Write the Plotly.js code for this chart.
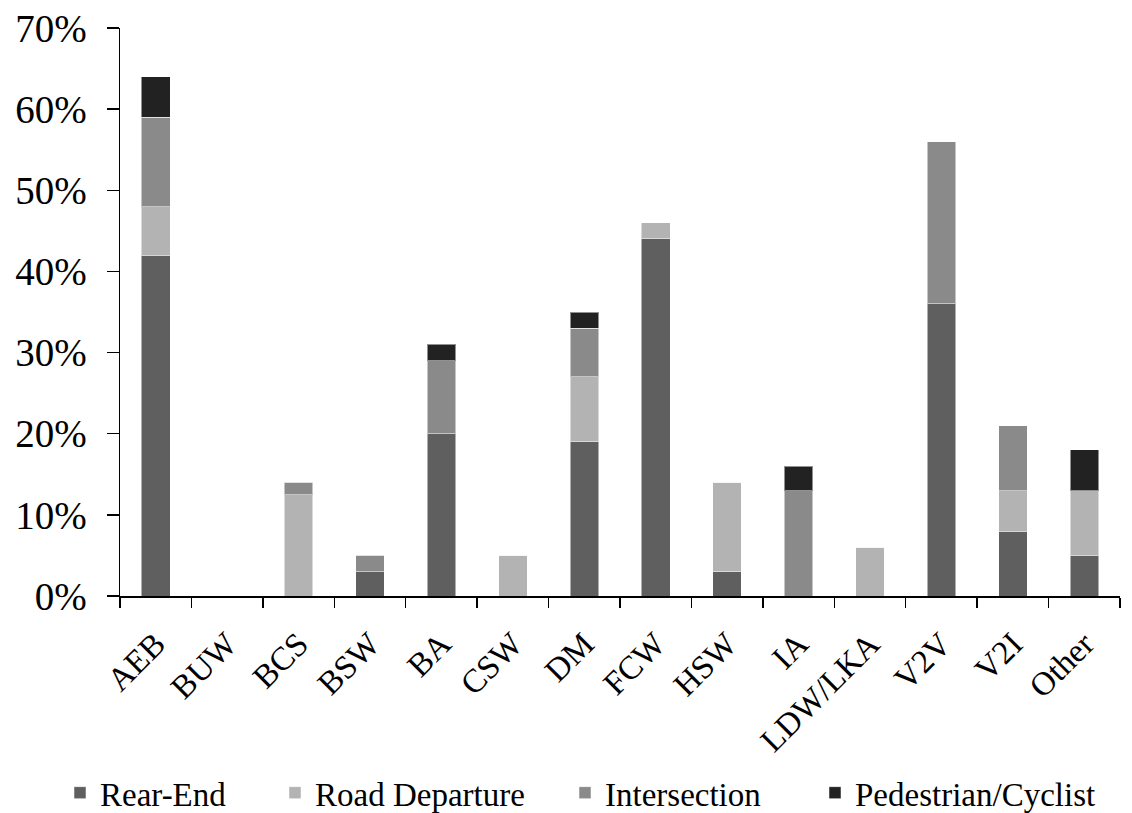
<!DOCTYPE html>
<html>
<head>
<meta charset="utf-8">
<script src="https://cdn.plot.ly/plotly-3.0.1.min.js"></script>
<style>html,body{margin:0;padding:0;background:#fff;}#chart{width:1132px;height:813px;}</style>
</head>
<body>
<div id="chart"></div>
<script>
const categories = ["AEB","BUW","BCS","BSW","BA","CSW","DM","FCW","HSW","IA","LDW/LKA","V2V","V2I","Other"];
const rearEnd      = [0.42, 0, 0,     0.03, 0.20, 0,    0.19, 0.44, 0.03, 0,    0,    0.36, 0.08, 0.05];
const roadDeparture= [0.06, 0, 0.125, 0,    0,    0.05, 0.08, 0.02, 0.11, 0,    0.06, 0,    0.05, 0.08];
const intersection = [0.11, 0, 0.015, 0.02, 0.09, 0,    0.06, 0,    0,    0.13, 0,    0.20, 0.08, 0];
const pedCyclist   = [0.05, 0, 0,     0,    0.02, 0,    0.02, 0,    0,    0.03, 0,    0,    0,    0.05];
const seriesNames  = ["Rear-End","Road Departure","Intersection","Pedestrian/Cyclist"];
const seriesColors = ["#5f5f5f","#b3b3b3","#8a8a8a","#222222"];
const seriesValues = [rearEnd, roadDeparture, intersection, pedCyclist];
const legendIds    = ["legend","legend2","legend3","legend4"];
const legendX      = [-0.06, 0.155, 0.445, 0.695];

const data = seriesValues.map((vals, i) => ({
  type: "bar",
  name: seriesNames[i],
  x: categories,
  y: vals,
  width: 0.4,
  legend: legendIds[i],
  marker: {color: seriesColors[i], line: {color: "rgba(255,255,255,0.5)", width: 1}},
  hoverinfo: "x+y+name"
}));

const serif = "'Liberation Serif', 'Times New Roman', serif";
const layout = {
  width: 1132, height: 813,
  barmode: "stack",
  paper_bgcolor: "#fff", plot_bgcolor: "#fff",
  font: {family: serif, color: "#000"},
  margin: {l: 120, r: 12, t: 28, b: 217, autoexpand: false},
  showlegend: true,
  xaxis: {
    type: "category",
    automargin: false,
    tickson: "boundaries",
    ticks: "outside", ticklen: 10, tickwidth: 1.5, tickcolor: "#000",
    showline: true, linecolor: "#000", linewidth: 1.5,
    showgrid: false, zeroline: false,
    tickangle: -45,
    ticklabelstandoff: 14,
    tickfont: {size: 33}
  },
  yaxis: {
    automargin: false,
    range: [0, 0.7],
    dtick: 0.1,
    tickformat: ".0%",
    ticks: "outside", ticklen: 12, tickwidth: 1.5, tickcolor: "#000",
    showline: true, linecolor: "#000", linewidth: 1.5,
    showgrid: false, zeroline: false,
    ticklabelstandoff: 12,
    tickfont: {size: 39}
  }
};
legendIds.forEach((id, i) => {
  layout[id] = {
    orientation: "h", x: legendX[i], xanchor: "left", xref: "paper",
    y: -0.297, yanchor: "top",
    font: {size: 33, family: serif},
    itemwidth: 30, bgcolor: "rgba(0,0,0,0)"
  };
});
Plotly.newPlot("chart", data, layout, {displayModeBar: false, staticPlot: true});
</script>
</body>
</html>
